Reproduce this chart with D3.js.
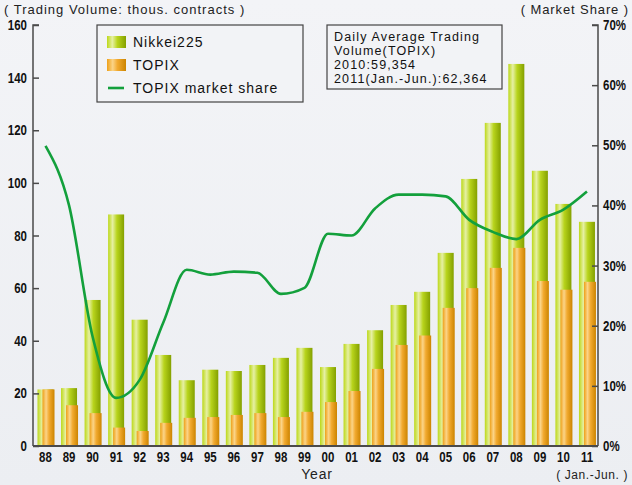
<!DOCTYPE html>
<html>
<head>
<meta charset="utf-8">
<script src="https://cdn.jsdelivr.net/npm/d3@7"></script>
<style>
  body { margin: 0; background: #eff1f5; }
  svg { display: block; }
</style>
</head>
<body>
<div id="chart"></div>
<script>
const years = ["88","89","90","91","92","93","94","95","96","97","98","99","00","01","02","03","04","05","06","07","08","09","10","11"];
const nikkei = [21.5,22,55.5,88,48,34.6,25,29,28.5,30.8,33.5,37.3,30,38.8,44,53.6,58.6,73.4,101.5,122.8,145.2,104.6,92,85.2];
const topix = [21.5,15.5,12.5,7,5.7,8.8,10.7,11,11.8,12.5,11,13,16.7,20.9,29.3,38.4,42,52.5,60,67.7,75.3,62.7,59.4,62.4];
const share = [49.9,40,18.2,8,11,20.5,29.3,28.5,29,28.8,25.3,26.3,35.3,35,39.5,41.8,41.8,41.5,37.6,35.6,34.4,37.6,39.3,42.3];
const leftTicks = [0,20,40,60,80,100,120,140,160];
const rightTicks = [0,10,20,30,40,50,60,70];
const noteLines = ["Daily Average Trading", "Volume(TOPIX)", "2010:59,354", "2011(Jan.-Jun.):62,364"];

const width = 632, height = 485;
const x0 = 33, x1 = 598, yTop = 25, yBot = 446;
const textFont = "'Liberation Sans', Arial, sans-serif";

const svg = d3.select("#chart").append("svg")
  .attr("width", width)
  .attr("height", height);

const defs = svg.append("defs");
function hGrad(id, stops) {
  const g = defs.append("linearGradient").attr("id", id)
    .attr("x1", "0%").attr("x2", "100%").attr("y1", "0%").attr("y2", "0%");
  stops.forEach(([o, c]) => g.append("stop").attr("offset", o).attr("stop-color", c));
}
hGrad("gGreen", [["0%", "#bcd818"], ["28%", "#e6f0a4"], ["55%", "#b8d41c"], ["100%", "#84a000"]]);
hGrad("gOrange", [["0%", "#eea018"], ["30%", "#fbd488"], ["55%", "#f2aa30"], ["100%", "#cc8400"]]);

const bg = defs.append("linearGradient").attr("id", "bg")
  .attr("x1", "0%").attr("x2", "0%").attr("y1", "0%").attr("y2", "100%");
bg.append("stop").attr("offset", "0%").attr("stop-color", "#f3f4f7");
bg.append("stop").attr("offset", "100%").attr("stop-color", "#eceef2");
svg.append("rect").attr("width", width).attr("height", height).attr("fill", "url(#bg)");

const x = d3.scaleBand().domain(years).range([x0, x1]).padding(0);
const y = d3.scaleLinear().domain([0, 160]).range([yBot, yTop]);
const yR = d3.scaleLinear().domain([0, 70]).range([yBot, yTop]);

// bars
svg.append("g").selectAll("rect")
  .data(years)
  .join("rect")
  .attr("x", d => x(d) + 4.5)
  .attr("width", 16)
  .attr("y", (d, i) => y(nikkei[i]))
  .attr("height", (d, i) => yBot - y(nikkei[i]))
  .attr("fill", "url(#gGreen)");

svg.append("g").selectAll("rect")
  .data(years)
  .join("rect")
  .attr("x", d => x(d) + 9.5)
  .attr("width", 12)
  .attr("y", (d, i) => y(topix[i]))
  .attr("height", (d, i) => yBot - y(topix[i]))
  .attr("fill", "url(#gOrange)");

// market share line
const line = d3.line()
  .x((d, i) => x(years[i]) + 12.5)
  .y(d => yR(d))
  .curve(d3.curveMonotoneX);

svg.append("path")
  .datum(share)
  .attr("fill", "none")
  .attr("stroke", "#13a03c")
  .attr("stroke-width", 2.6)
  .attr("stroke-linejoin", "round")
  .attr("d", line);

// narrow bold tick labels (squeezed horizontally)
function tickLabel(sel, fx, fy, anchor) {
  sel.attr("transform", d => `translate(${fx(d)},${fy(d)}) scale(0.82,1)`)
    .attr("text-anchor", anchor)
    .style("font", `bold 14px ${textFont}`)
    .attr("fill", "#111");
}

// axes
const axisColor = "#4a4a4a";
const leftAxis = svg.append("g")
  .attr("transform", `translate(${x0},0)`)
  .call(d3.axisRight(y).tickValues(leftTicks).tickSize(6).tickFormat(""));
leftAxis.selectAll("path, line").attr("stroke", axisColor).attr("stroke-width", 1.5);
leftAxis.select(".domain").attr("d", `M6,${yTop}H0V${yBot}`);

svg.append("g").selectAll("text")
  .data(leftTicks)
  .join("text")
  .call(tickLabel, () => 27, d => y(d) + 5, "end")
  .text(d => d);

const rightAxis = svg.append("g")
  .attr("transform", `translate(${x1},0)`)
  .call(d3.axisLeft(yR).tickValues(rightTicks).tickSize(6).tickFormat(""));
rightAxis.selectAll("path, line").attr("stroke", axisColor).attr("stroke-width", 1.5);
rightAxis.select(".domain").attr("d", `M-6,${yTop}H0V${yBot}`);

svg.append("g").selectAll("text")
  .data(rightTicks)
  .join("text")
  .call(tickLabel, () => 603, d => yR(d) + 5, "start")
  .text(d => d + "%");

svg.append("line")
  .attr("x1", x0).attr("x2", x1)
  .attr("y1", yBot).attr("y2", yBot)
  .attr("stroke", axisColor).attr("stroke-width", 2);

svg.append("g").selectAll("text")
  .data(years)
  .join("text")
  .call(tickLabel, d => x(d) + 12.5, () => 462, "middle")
  .text(d => d);

// titles
svg.append("text")
  .attr("x", 4).attr("y", 14)
  .style("font", `13px ${textFont}`)
  .style("letter-spacing", "1px")
  .attr("fill", "#222")
  .text("( Trading Volume: thous. contracts )");

svg.append("text")
  .attr("x", 629).attr("y", 14)
  .attr("text-anchor", "end")
  .style("font", `13px ${textFont}`)
  .style("letter-spacing", "0.9px")
  .attr("fill", "#222")
  .text("( Market Share )");

svg.append("text")
  .attr("x", 317).attr("y", 479)
  .attr("text-anchor", "middle")
  .style("font", `14px ${textFont}`)
  .style("letter-spacing", "0.8px")
  .attr("fill", "#222")
  .text("Year");

svg.append("text")
  .attr("x", 628).attr("y", 479)
  .attr("text-anchor", "end")
  .style("font", `12px ${textFont}`)
  .style("letter-spacing", "0.6px")
  .attr("fill", "#222")
  .text("( Jan.-Jun. )");

// legend
const legend = svg.append("g");
legend.append("rect")
  .attr("x", 97).attr("y", 25).attr("width", 206).attr("height", 77)
  .attr("fill", "#f2f3f6").attr("stroke", "#444").attr("stroke-width", 1.2);

const legendItems = [
  { label: "Nikkei225", type: "bar", fill: "url(#gGreen)" },
  { label: "TOPIX", type: "bar", fill: "url(#gOrange)" },
  { label: "TOPIX market share", type: "line", fill: "#13a03c" }
];
legendItems.forEach((it, i) => {
  const cy = 42 + i * 23;
  if (it.type === "bar") {
    legend.append("rect")
      .attr("x", 107).attr("y", cy - 6).attr("width", 19).attr("height", 12)
      .attr("fill", it.fill);
  } else {
    legend.append("line")
      .attr("x1", 108).attr("x2", 124).attr("y1", cy).attr("y2", cy)
      .attr("stroke", it.fill).attr("stroke-width", 2.6);
  }
  legend.append("text")
    .attr("x", 133).attr("y", cy + 5)
    .style("font", `14px ${textFont}`)
    .style("letter-spacing", "1px")
    .attr("fill", "#111")
    .text(it.label);
});

// note box
const note = svg.append("g");
note.append("rect")
  .attr("x", 327).attr("y", 25).attr("width", 175).attr("height", 64)
  .attr("fill", "#f2f3f6").attr("stroke", "#444").attr("stroke-width", 1.2);
note.selectAll("text")
  .data(noteLines)
  .join("text")
  .attr("x", 334)
  .attr("y", (d, i) => 41 + i * 14)
  .style("font", `12.5px ${textFont}`)
  .style("letter-spacing", "1.15px")
  .attr("fill", "#111")
  .text(d => d);
</script>
</body>
</html>
